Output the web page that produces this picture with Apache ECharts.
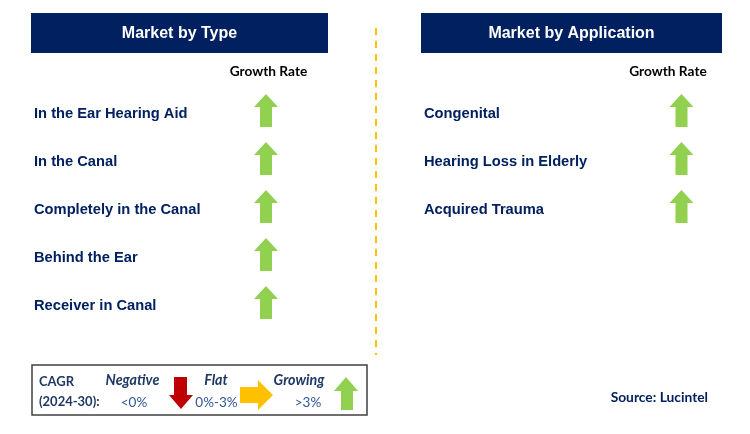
<!DOCTYPE html>
<html>
<head>
<meta charset="utf-8">
<script src="https://cdn.jsdelivr.net/npm/echarts@6/dist/echarts.min.js"></script>
<style>
  html, body { margin: 0; padding: 0; background: #fff; }
  #chart { width: 750px; height: 434px; }
</style>
</head>
<body>
<div id="chart"></div>
<script>
// data
var typeNames = ['In the Ear Hearing Aid', 'In the Canal', 'Completely in the Canal', 'Behind the Ear', 'Receiver in Canal'];
var typeGrowth = ['Growing', 'Growing', 'Growing', 'Growing', 'Growing'];
var appNames = ['Congenital', 'Hearing Loss in Elderly', 'Acquired Trauma'];
var appGrowth = ['Growing', 'Growing', 'Growing'];
var growthLabel = ['Growth Rate'];
var panelTitles = ['Market by Type', 'Market by Application'];
var legendTerms = ['Negative', 'Flat', 'Growing'];
var legendRanges = ['<0%', '0%-3%', '>3%'];

var NAVY = '#002060';
var arrowPath = {
  Growing: 'path://M12,0 L24,13 L18,13 L18,33 L6,33 L6,13 L0,13 Z',
  Flat: 'path://M0,7 L18,7 L18,0 L33,15 L18,30 L18,23 L0,23 Z',
  Negative: 'path://M5,0 L18,0 L18,18 L24,18 L12,32 L0,18 L5,18 Z'
};
var arrowColor = { Growing: '#92D050', Flat: '#FFC000', Negative: '#C00000' };

function arrowData(names, growth) {
  return names.map(function (n, i) {
    return {
      value: [growthLabel[0], n],
      symbol: arrowPath[growth[i]],
      itemStyle: { color: arrowColor[growth[i]], opacity: 1 }
    };
  });
}

function catY(names, idx, margin) {
  return {
    type: 'category', gridIndex: idx, data: names, inverse: true,
    axisLine: { show: false }, axisTick: { show: false }, splitLine: { show: false },
    axisLabel: {
      align: 'left', margin: margin, color: NAVY,
      fontFamily: 'Liberation Sans', fontWeight: 'bold', fontSize: 14.7
    }
  };
}
function catX(idx) {
  return {
    type: 'category', gridIndex: idx, data: growthLabel, position: 'top',
    axisLine: { show: false }, axisTick: { show: false }, splitLine: { show: false },
    axisLabel: {
      margin: 11, color: '#000', fontFamily: 'Lato', fontWeight: 'bold', fontSize: 13.7
    }
  };
}

var legendFont = { fontFamily: 'Lato', fontSize: 13 };
function txt(x, y, s, style) {
  return {
    type: 'text', x: x, y: y,
    style: Object.assign({ text: s, verticalAlign: 'middle' }, legendFont, style)
  };
}
function poly(pts, color) {
  return { type: 'polygon', shape: { points: pts }, style: { fill: color } };
}

var option = {
  animation: false,
  grid: [
    { left: 232, width: 73, top: 90, height: 48 * typeNames.length },
    { left: 632, width: 72, top: 90, height: 48 * appNames.length }
  ],
  xAxis: [catX(0), catX(1)],
  yAxis: [catY(typeNames, 0, 198), catY(appNames, 1, 208)],
  series: [
    {
      type: 'scatter', xAxisIndex: 0, yAxisIndex: 0, silent: true,
      symbolSize: [24, 33], symbolOffset: [-2.5, -3.5],
      data: arrowData(typeNames, typeGrowth)
    },
    {
      type: 'scatter', xAxisIndex: 1, yAxisIndex: 1, silent: true,
      symbolSize: [24, 33], symbolOffset: [13.5, -3.5],
      data: arrowData(appNames, appGrowth)
    }
  ],
  graphic: [
    { type: 'rect', shape: { x: 31, y: 13, width: 297, height: 40 }, style: { fill: NAVY } },
    { type: 'rect', shape: { x: 421, y: 13, width: 301, height: 40 }, style: { fill: NAVY } },
    { type: 'text', x: 179.5, y: 34, style: { text: panelTitles[0], fill: '#fff', fontFamily: 'Liberation Sans', fontWeight: 'bold', fontSize: 16, align: 'center', verticalAlign: 'middle' } },
    { type: 'text', x: 571.5, y: 34, style: { text: panelTitles[1], fill: '#fff', fontFamily: 'Liberation Sans', fontWeight: 'bold', fontSize: 16, align: 'center', verticalAlign: 'middle' } },
    { type: 'line', shape: { x1: 376, y1: 28, x2: 376, y2: 355 }, style: { stroke: '#FFC000', lineWidth: 2, lineDash: [7, 6] } },
    // legend box
    { type: 'rect', shape: { x: 32, y: 365, width: 335, height: 50 }, style: { fill: '#fff', stroke: '#404040', lineWidth: 1.5 } },
    txt(39, 382, 'CAGR', { fill: '#1F3864', fontWeight: 'bold' }),
    txt(39, 402, '(2024-30):', { fill: '#1F3864', fontWeight: 'bold' }),
    txt(132.5, 380, legendTerms[0], { fill: '#1F3864', fontWeight: 'bold', fontStyle: 'italic', align: 'center', fontSize: 14.3 }),
    txt(134, 403, legendRanges[0], { fill: '#2F5597', align: 'center', fontSize: 13.5 }),
    poly([[174, 377], [187, 377], [187, 395], [193, 395], [181, 409], [169, 395], [174, 395]], arrowColor.Negative),
    txt(216, 380, legendTerms[1], { fill: '#1F3864', fontWeight: 'bold', fontStyle: 'italic', align: 'center', fontSize: 14.3 }),
    txt(216.5, 403, legendRanges[1], { fill: '#2F5597', align: 'center', fontSize: 13.5 }),
    poly([[240, 387], [258, 387], [258, 380], [273, 395], [258, 410], [258, 403], [240, 403]], arrowColor.Flat),
    txt(299, 380, legendTerms[2], { fill: '#1F3864', fontWeight: 'bold', fontStyle: 'italic', align: 'center', fontSize: 14.3 }),
    txt(308, 403, legendRanges[2], { fill: '#2F5597', align: 'center', fontSize: 13.5 }),
    poly([[346, 377], [358, 391], [353, 391], [353, 410], [341, 410], [341, 391], [334, 391]], arrowColor.Growing),
    txt(708, 398, 'Source: Lucintel', { fill: NAVY, fontWeight: 'bold', align: 'right', fontSize: 13.8 })
  ]
};

var chart = echarts.init(document.getElementById('chart'));
chart.setOption(option);
</script>
</body>
</html>
